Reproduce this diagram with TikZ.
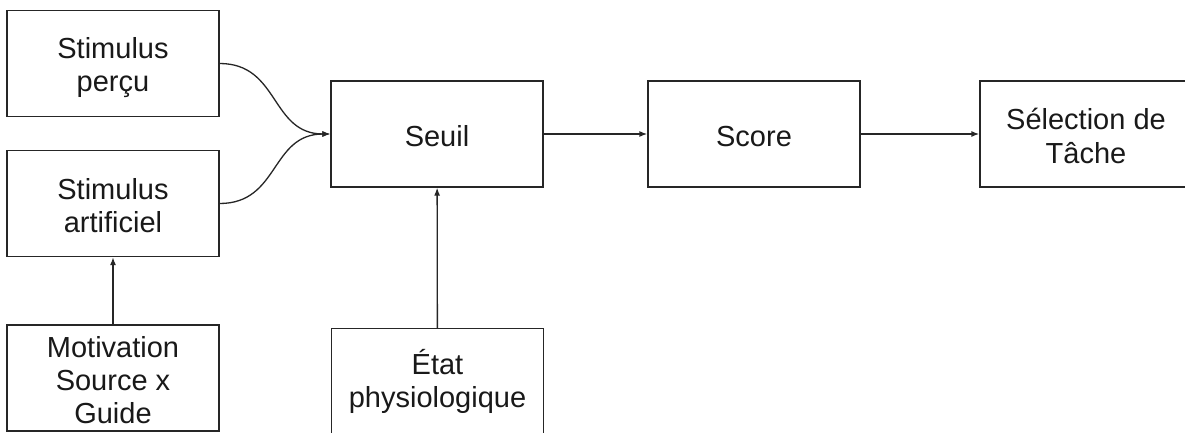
\documentclass[tikz,border=0pt]{standalone}
\usepackage{fontspec}
\setmainfont{Liberation Sans}
\usetikzlibrary{arrows.meta}
\newcommand\sr{\rule[-4pt]{0pt}{33pt}}
\begin{document}
\begin{tikzpicture}[x=1pt,y=-1pt,
  box/.style={draw=black!85, line width=1.3pt, rectangle, minimum width=212pt, minimum height=106pt,
    inner sep=0pt, align=center, font=\fontsize{29}{33}\selectfont, text=black!90},
  conn/.style={draw=black!85, line width=1.3pt, -{Latex[length=8pt,width=6pt]}}]
\useasboundingbox (0,0) rectangle (1185,433);
\clip (0,0) rectangle (1185,433);
\fill[white] (0,0) rectangle (1185,433);
\node[box] (perc) at (113,63.5) {\sr Stimulus\\\sr perçu};
\node[box] (art) at (113,203.5) {\sr Stimulus\\\sr artificiel};
\node[box] (seuil) at (437,134) {\sr Seuil};
\node[box] (score) at (754,134) {\sr Score};
\node[box] (sel) at (1086,134) {\sr Sélection de\\\sr Tâche};
\node[box] (motiv) at (113,378) {\sr Motivation\\\sr Source x\\\sr Guide};
\node[box] (etat) at (437.5,381.5) {\sr État\\\rule[-11pt]{0pt}{40pt}physiologique};
\draw[conn] (perc.east) .. controls +(60,0) and +(-60,0) .. (seuil.west);
\draw[conn] (art.east) .. controls +(60,0) and +(-60,0) .. (seuil.west);
\draw[conn] (seuil) -- (score);
\draw[conn] (score) -- (sel);
\draw[conn] (motiv) -- (art);
\draw[conn] (etat) -- (seuil);
\end{tikzpicture}
\end{document}
